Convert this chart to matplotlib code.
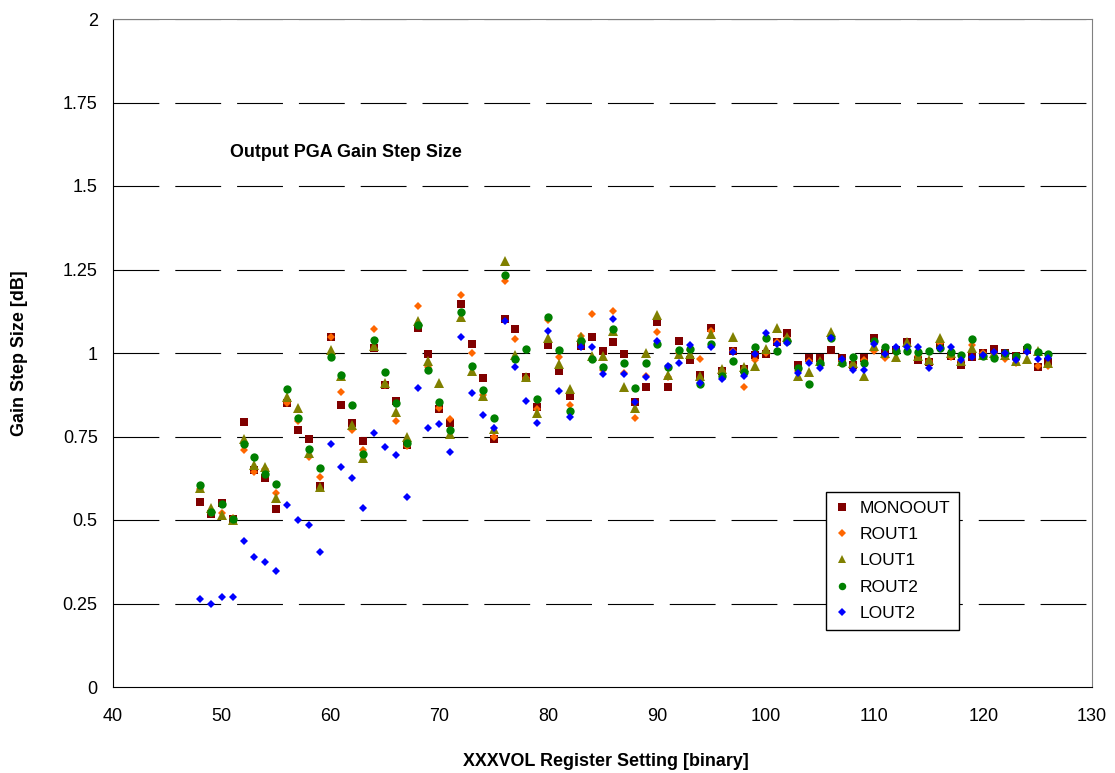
import matplotlib
matplotlib.use("Agg")
import matplotlib.pyplot as plt

plt.rcParams['font.family'] = ['Liberation Sans', 'DejaVu Sans']
plt.rcParams['lines.scale_dashes'] = False

# register setting 48..126
setting = list(range(48, 127))

monoout = [0.554, 0.517, 0.552, 0.502, 0.793, 0.650, 0.625, 0.534, 0.851, 0.769,
           0.742, 0.603, 1.049, 0.844, 0.789, 0.737, 1.016, 0.904, 0.855, 0.725,
           1.074, 0.996, 0.831, 0.789, 1.147, 1.026, 0.924, 0.742, 1.103, 1.073,
           0.927, 0.837, 1.024, 0.946, 0.871, 1.022, 1.049, 1.006, 1.033, 0.996,
           0.852, 0.897, 1.093, 0.897, 1.036, 0.978, 0.933, 1.074, 0.946, 1.006,
           0.952, 0.995, 0.997, 1.034, 1.061, 0.964, 0.986, 0.986, 1.009, 0.986,
           0.964, 0.986, 1.044, 1.000, 1.010, 1.032, 0.979, 0.974, 1.024, 0.991,
           0.964, 0.989, 1.001, 1.011, 1.000, 0.991, 1.010, 0.959, 0.974]

rout1 = [0.593, 0.520, 0.520, 0.505, 0.710, 0.645, 0.653, 0.582, 0.851, 0.796,
         0.690, 0.630, 1.049, 0.884, 0.769, 0.710, 1.071, 0.905, 0.796, 0.722,
         1.141, 0.957, 0.834, 0.801, 1.174, 0.999, 0.875, 0.749, 1.217, 1.043,
         0.925, 0.833, 1.099, 0.989, 0.844, 1.051, 1.117, 0.949, 1.126, 0.940,
         0.806, 0.931, 1.063, 0.927, 1.000, 1.010, 0.982, 1.065, 0.945, 1.005,
         0.897, 0.979, 1.000, 1.034, 1.045, 0.945, 0.975, 0.970, 1.050, 0.975,
         0.965, 0.978, 1.006, 0.985, 1.005, 1.025, 0.990, 0.975, 1.030, 0.987,
         0.975, 1.024, 1.001, 1.000, 0.981, 0.971, 1.010, 0.962, 0.962]

lout1 = [0.595, 0.535, 0.515, 0.500, 0.742, 0.665, 0.660, 0.566, 0.869, 0.836,
         0.700, 0.600, 1.009, 0.930, 0.784, 0.685, 1.021, 0.909, 0.822, 0.749,
         1.097, 0.977, 0.909, 0.757, 1.107, 0.946, 0.872, 0.771, 1.275, 0.994,
         0.927, 0.819, 1.044, 0.967, 0.892, 1.047, 0.990, 0.991, 1.065, 0.899,
         0.834, 0.999, 1.114, 0.934, 0.998, 0.996, 0.930, 1.058, 0.952, 1.049,
         0.957, 0.961, 1.013, 1.074, 1.049, 0.932, 0.944, 0.975, 1.064, 0.975,
         0.970, 0.932, 1.020, 1.000, 0.989, 1.032, 0.990, 0.979, 1.044, 1.000,
         0.975, 1.014, 0.995, 1.000, 0.995, 0.977, 0.982, 1.006, 0.970]

rout2 = [0.605, 0.525, 0.548, 0.502, 0.727, 0.689, 0.638, 0.608, 0.892, 0.806,
         0.712, 0.655, 0.989, 0.934, 0.844, 0.699, 1.039, 0.942, 0.851, 0.732,
         1.084, 0.949, 0.854, 0.769, 1.124, 0.962, 0.889, 0.806, 1.235, 0.982,
         1.012, 0.861, 1.107, 1.009, 0.827, 1.037, 0.983, 0.959, 1.071, 0.969,
         0.894, 0.969, 1.026, 0.957, 1.008, 1.013, 0.907, 1.027, 0.930, 0.976,
         0.942, 1.017, 1.046, 1.006, 1.037, 0.954, 0.907, 0.971, 1.044, 0.969,
         0.989, 0.969, 1.037, 1.019, 1.006, 1.006, 1.004, 1.006, 1.014, 1.004,
         0.994, 1.041, 0.991, 0.986, 0.999, 0.991, 1.019, 1.004, 0.996]

lout2 = [0.263, 0.248, 0.270, 0.270, 0.438, 0.388, 0.375, 0.348, 0.544, 0.499,
         0.486, 0.405, 0.728, 0.658, 0.625, 0.537, 0.759, 0.719, 0.695, 0.570,
         0.894, 0.776, 0.786, 0.704, 1.049, 0.881, 0.813, 0.776, 1.096, 0.958,
         0.857, 0.789, 1.067, 0.887, 0.809, 1.019, 1.019, 0.938, 1.103, 0.936,
         0.852, 0.927, 1.036, 0.961, 0.969, 1.023, 0.911, 1.017, 0.922, 1.002,
         0.932, 0.996, 1.059, 1.026, 1.029, 0.939, 0.971, 0.954, 1.044, 0.981,
         0.949, 0.949, 1.026, 0.997, 1.017, 1.017, 1.019, 0.956, 1.014, 1.017,
         0.979, 0.989, 0.994, 1.004, 0.999, 0.979, 1.004, 0.982, 0.984]

fig = plt.figure(figsize=(11.15, 7.73), dpi=100)
ax = fig.add_axes([113/1115, 1 - 687/773, (1092 - 113)/1115, (687 - 19)/773])

# series, drawn in legend order so blue ends up on top
ax.plot(setting, monoout, 's', color='#800000', ms=6, mew=0, label='MONOOUT')
ax.plot(setting, rout1, 'D', color='#FF6600', ms=4.2, mew=0, label='ROUT1')
ax.plot(setting, lout1, '^', color='#808000', ms=6.5, mew=0, label='LOUT1')
ax.plot(setting, rout2, 'o', color='#008000', ms=6, mew=0, label='ROUT2')
ax.plot(setting, lout2, 'D', color='#0000FF', ms=4.2, mew=0, label='LOUT2')

ax.set_xlim(40, 130)
ax.set_ylim(0, 2)
ax.set_xticks(range(40, 131, 10))
ax.set_yticks([0, 0.25, 0.5, 0.75, 1, 1.25, 1.5, 1.75, 2])
ax.set_yticklabels(['0', '0.25', '0.5', '0.75', '1', '1.25', '1.5', '1.75', '2'])
ax.tick_params(axis='both', labelsize=13, length=0)
ax.tick_params(axis='y', pad=11)
ax.tick_params(axis='x', pad=15)

# dashed grid lines like the excel chart
for yv in [0.25, 0.5, 0.75, 1, 1.25, 1.5, 1.75, 2]:
    ax.axhline(yv, color='black', lw=0.8, ls=(0, (33, 11.5)), zorder=0.5)

ax.spines['left'].set_color('black')
ax.spines['bottom'].set_color('black')
ax.spines['top'].set_color('#808080')
ax.spines['right'].set_color('#808080')

ax.text(50.75, 1.6, 'Output PGA Gain Step Size', fontsize=12.9,
        fontweight='bold', ha='left', va='center')

fig.text(20/1115, 1 - 353/773, 'Gain Step Size [dB]', rotation=90,
         fontsize=12.9, fontweight='bold', ha='center', va='center')
fig.text(606/1115, 1 - 762/773, 'XXXVOL Register Setting [binary]',
         fontsize=12.9, fontweight='bold', ha='center', va='center')

leg = ax.legend(loc='upper left', bbox_to_anchor=(826/1115, 1 - 492/773),
                bbox_transform=fig.transFigure, borderaxespad=0,
                fontsize=12.5, frameon=True, fancybox=False, framealpha=1,
                edgecolor='black', handlelength=0.8, handletextpad=0.65,
                labelspacing=0.64, borderpad=0.5, numpoints=1, markerscale=0.9)
leg.get_frame().set_linewidth(1)

fig.savefig('out.png', dpi=100)
